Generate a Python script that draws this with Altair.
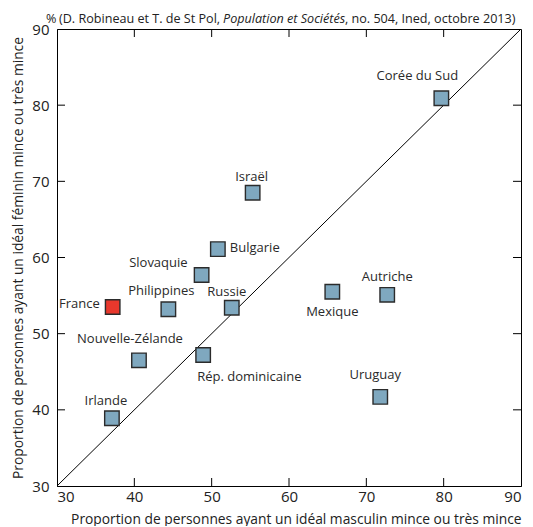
import altair as alt
import pandas as pd

countries = ["Corée du Sud", "Israël", "Bulgarie", "Slovaquie", "Philippines", "Russie",
             "France", "Nouvelle-Zélande", "Rép. dominicaine", "Irlande", "Mexique",
             "Autriche", "Uruguay"]
masc = [79.7, 55.3, 50.8, 48.7, 44.4, 52.6, 37.2, 40.6, 48.9, 37.1, 65.6, 72.7, 71.8]
fem = [80.9, 68.5, 61.1, 57.7, 53.2, 53.4, 53.5, 46.5, 47.2, 38.9, 55.5, 55.1, 41.7]
group = ["autre"] * len(countries)
group[countries.index("France")] = "France"

tick_vals = [40, 50, 60, 70, 80]
diag = [30, 90]

# label placement (dx, dy, align) — layout only
label_pos = {
    "Corée du Sud": (-24, -22, "center"),
    "Israël": (-1, -16, "center"),
    "Bulgarie": (12, -1, "left"),
    "Slovaquie": (-14, -12, "right"),
    "Philippines": (-7, -18, "center"),
    "Russie": (-5, -16, "center"),
    "France": (-13, -3, "right"),
    "Nouvelle-Zélande": (-9, -21, "center"),
    "Rép. dominicaine": (-6, 22, "left"),
    "Irlande": (-6, -17, "center"),
    "Mexique": (0, 20, "center"),
    "Autriche": (0, -18, "center"),
    "Uruguay": (-5, -22, "center"),
}

df = pd.DataFrame({"pays": countries, "masc": masc, "fem": fem, "groupe": group})
diag_df = pd.DataFrame({"masc": diag, "fem": diag})
ticks_df = pd.DataFrame({"v": tick_vals})

W, H = 464, 457
FONT = "Open Sans"

xscale = alt.Scale(domain=[30, 90], nice=False, zero=False)
yscale = alt.Scale(domain=[30, 90], nice=False, zero=False)

x_enc = alt.X("masc:Q", scale=xscale,
              axis=alt.Axis(title="Proportion de personnes ayant un idéal masculin mince ou très mince",
                            values=[30, 40, 50, 60, 70, 80, 90], ticks=False, grid=False,
                            labelFontSize=15, labelPadding=3, titleFontSize=13.8,
                            titleAnchor="end",
                            titleFontWeight="normal", titlePadding=8, labelColor="#222",
                            titleColor="#222", domainColor="black", labelFont=FONT, titleFont=FONT))
y_enc = alt.Y("fem:Q", scale=yscale,
              axis=alt.Axis(title="Proportion de personnes ayant un idéal féminin mince ou très mince",
                            values=[30, 40, 50, 60, 70, 80, 90], ticks=False, grid=False,
                            labelFontSize=15, labelPadding=8, titleFontSize=13.8,
                            titleFontWeight="normal", titlePadding=6, labelColor="#222",
                            titleColor="#222", domainColor="black", labelFont=FONT, titleFont=FONT))

line = alt.Chart(diag_df).mark_line(color="black", strokeWidth=1).encode(x=x_enc, y=y_enc)

TL = 8
tb = alt.Chart(ticks_df).mark_rule(color="black", strokeWidth=1).encode(
    x=alt.X("v:Q", scale=xscale), y=alt.value(H), y2=alt.value(H - TL))
tt = alt.Chart(ticks_df).mark_rule(color="black", strokeWidth=1).encode(
    x=alt.X("v:Q", scale=xscale), y=alt.value(0), y2=alt.value(TL))
tl = alt.Chart(ticks_df).mark_rule(color="black", strokeWidth=1).encode(
    y=alt.Y("v:Q", scale=yscale), x=alt.value(0), x2=alt.value(TL))
tr = alt.Chart(ticks_df).mark_rule(color="black", strokeWidth=1).encode(
    y=alt.Y("v:Q", scale=yscale), x=alt.value(W), x2=alt.value(W - TL))

points = alt.Chart(df).mark_square(size=210, filled=True, stroke="#2b2b2b", strokeWidth=1.4,
                                   opacity=1).encode(
    x=alt.X("masc:Q", scale=xscale),
    y=alt.Y("fem:Q", scale=yscale),
    color=alt.Color("groupe:N", scale=alt.Scale(domain=["autre", "France"],
                                                range=["#7fa8bf", "#e8382c"]), legend=None),
)

labels = []
for name, (dx, dy, al) in label_pos.items():
    labels.append(
        alt.Chart(df).transform_filter(alt.datum.pays == name).mark_text(
            dx=dx, dy=dy, align=al, baseline="middle", fontSize=13, font=FONT, color="#2a2a2a"
        ).encode(x=alt.X("masc:Q", scale=xscale), y=alt.Y("fem:Q", scale=yscale), text="pays:N")
    )

one = pd.DataFrame({"a": [0]})
src1 = "(D. Robineau et T. de St Pol,"
src2 = "Population et Sociétés"
src3 = ", no. 504, Ined, octobre 2013)"
TY = -10
TFS = 12.6
t0 = alt.Chart(one).mark_text(text="%", align="left", baseline="middle", fontSize=TFS,
                              font=FONT, color="#222").encode(x=alt.value(-11), y=alt.value(TY))
t1 = alt.Chart(one).mark_text(text=src1, align="left", baseline="middle", fontSize=TFS,
                              font=FONT, color="#222").encode(x=alt.value(2), y=alt.value(TY))
t2 = alt.Chart(one).mark_text(text=src2, align="left", baseline="middle", fontSize=TFS,
                              font=FONT, fontStyle="italic", color="#222").encode(
    x=alt.value(166), y=alt.value(TY))
t3 = alt.Chart(one).mark_text(text=src3, align="left", baseline="middle", fontSize=TFS,
                              font=FONT, color="#222").encode(x=alt.value(288), y=alt.value(TY))

chart = alt.layer(line, tb, tt, tl, tr, points, *labels, t0, t1, t2, t3).properties(
    width=W, height=H,
    autosize=alt.AutoSizeParams(type="none"),
    padding={"left": 49, "top": 21, "right": 4, "bottom": 40},
).configure_view(stroke="black", strokeWidth=1)

chart.save("out.html", embed_options={"renderer": "svg", "actions": False})
